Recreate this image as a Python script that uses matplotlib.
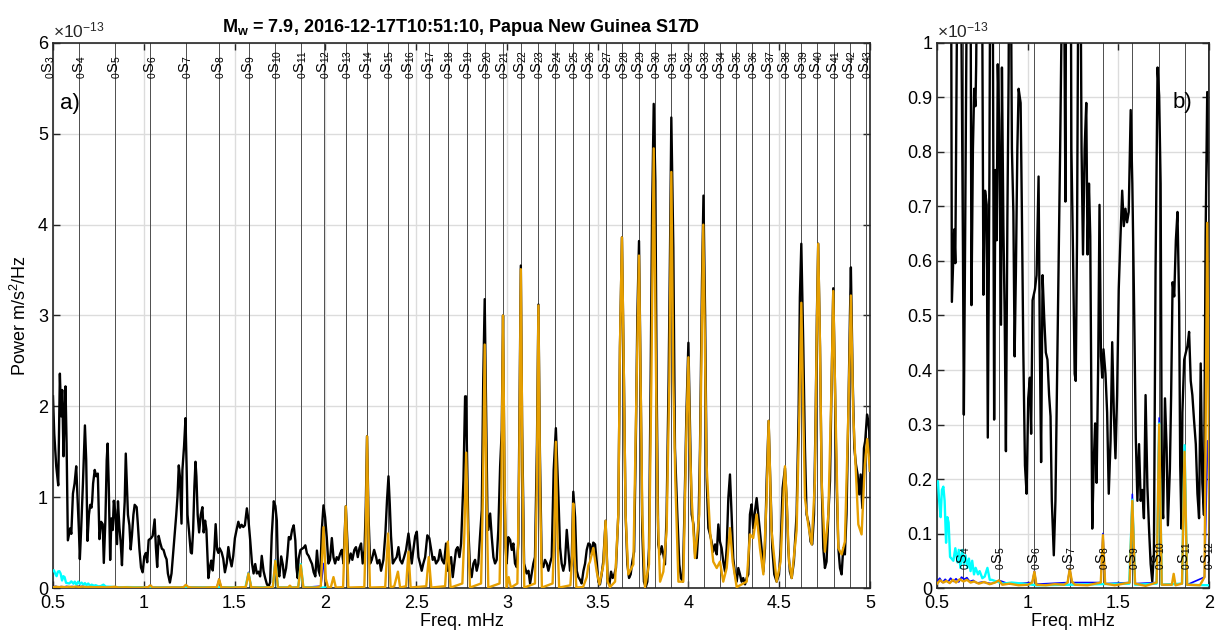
import matplotlib
matplotlib.use("Agg")
import matplotlib.pyplot as plt
from matplotlib.ticker import FormatStrFormatter

plt.rcParams['font.family'] = ['Liberation Sans', 'DejaVu Sans']
plt.rcParams['mathtext.fontset'] = 'custom'
plt.rcParams['mathtext.rm'] = 'Liberation Sans'
plt.rcParams['mathtext.it'] = 'Liberation Sans:italic'
plt.rcParams['mathtext.bf'] = 'Liberation Sans:bold'

TITLE = r'$\mathbf{M}_\mathbf{w}$ = 7.9, 2016-12-17T10:51:10, Papua New Guinea S17D'

# fundamental spheroidal modes 0S_n marked on the plot (mHz)
MODE_N = [3] + list(range(4, 44))
MODE_FREQ = [0.478, 0.646, 0.842, 1.037, 1.232, 1.415, 1.577, 1.725, 1.865, 1.993, 2.113,
             2.230, 2.346, 2.458, 2.570, 2.675, 2.779, 2.882, 2.979, 3.076, 3.172,
             3.267, 3.363, 3.454, 3.546, 3.636, 3.726, 3.816, 3.906, 3.996, 4.084,
             4.174, 4.262, 4.352, 4.444, 4.532, 4.622, 4.710, 4.800, 4.890, 4.978]

# spectra, power in units of 1e-13 m/s^2/Hz
BLK_F = [0.500, 0.507, 0.518, 0.529, 0.538, 0.545, 0.551, 0.558, 0.564, 0.569, 0.575, 0.582,
         0.595, 0.601, 0.610, 0.619, 0.628, 0.643, 0.648, 0.655, 0.665, 0.676, 0.683, 0.690,
         0.698, 0.705, 0.712, 0.716, 0.721, 0.730, 0.738, 0.747, 0.756, 0.765, 0.774, 0.780,
         0.789, 0.796, 0.801, 0.807, 0.815, 0.822, 0.829, 0.835, 0.842, 0.848, 0.853, 0.858,
         0.866, 0.873, 0.880, 0.888, 0.895, 0.901, 0.908, 0.913, 0.921, 0.928, 0.935, 0.943,
         0.950, 0.961, 0.968, 0.976, 0.985, 0.994, 1.003, 1.012, 1.019, 1.027, 1.040, 1.049,
         1.060, 1.067, 1.074, 1.082, 1.091, 1.100, 1.109, 1.118, 1.126, 1.133, 1.144, 1.153,
         1.162, 1.171, 1.179, 1.186, 1.193, 1.199, 1.208, 1.213, 1.222, 1.230, 1.236, 1.241,
         1.250, 1.259, 1.265, 1.272, 1.279, 1.285, 1.290, 1.297, 1.305, 1.314, 1.323, 1.330,
         1.338, 1.345, 1.356, 1.365, 1.372, 1.380, 1.389, 1.396, 1.404, 1.411, 1.418, 1.429,
         1.438, 1.447, 1.457, 1.466, 1.475, 1.484, 1.493, 1.502, 1.511, 1.521, 1.530, 1.539,
         1.548, 1.557, 1.568, 1.577, 1.586, 1.596, 1.605, 1.614, 1.623, 1.632, 1.641, 1.650,
         1.660, 1.669, 1.678, 1.687, 1.696, 1.705, 1.716, 1.725, 1.733, 1.740, 1.747, 1.757,
         1.766, 1.773, 1.784, 1.791, 1.799, 1.808, 1.817, 1.826, 1.835, 1.841, 1.848, 1.853,
         1.863, 1.872, 1.881, 1.890, 1.899, 1.908, 1.917, 1.927, 1.936, 1.945, 1.954, 1.963,
         1.972, 1.981, 1.990, 1.999, 2.008, 2.017, 2.026, 2.036, 2.045, 2.054, 2.063, 2.072,
         2.082, 2.091, 2.100, 2.113, 2.127, 2.140, 2.149, 2.160, 2.169, 2.179, 2.188, 2.197,
         2.206, 2.216, 2.223, 2.230, 2.238, 2.247, 2.256, 2.269, 2.280, 2.287, 2.298, 2.307,
         2.320, 2.331, 2.340, 2.348, 2.355, 2.362, 2.372, 2.383, 2.393, 2.403, 2.412, 2.423,
         2.434, 2.445, 2.458, 2.467, 2.476, 2.485, 2.495, 2.504, 2.513, 2.522, 2.531, 2.540,
         2.550, 2.562, 2.573, 2.583, 2.592, 2.601, 2.610, 2.623, 2.632, 2.643, 2.654, 2.665,
         2.674, 2.683, 2.693, 2.702, 2.711, 2.720, 2.729, 2.739, 2.748, 2.761, 2.770, 2.775,
         2.781, 2.788, 2.797, 2.806, 2.816, 2.825, 2.834, 2.843, 2.852, 2.862, 2.870, 2.878,
         2.886, 2.893, 2.898, 2.908, 2.917, 2.926, 2.935, 2.944, 2.953, 2.963, 2.972, 2.979,
         2.987, 2.993, 2.999, 3.008, 3.018, 3.027, 3.036, 3.045, 3.054, 3.063, 3.070, 3.077,
         3.084, 3.095, 3.109, 3.119, 3.128, 3.137, 3.146, 3.155, 3.166, 3.174, 3.182, 3.192,
         3.201, 3.210, 3.220, 3.229, 3.238, 3.247, 3.258, 3.270, 3.284, 3.293, 3.302, 3.311,
         3.320, 3.330, 3.339, 3.348, 3.357, 3.366, 3.376, 3.385, 3.394, 3.403, 3.412, 3.422,
         3.431, 3.440, 3.449, 3.458, 3.467, 3.476, 3.486, 3.495, 3.504, 3.513, 3.522, 3.531,
         3.544, 3.555, 3.565, 3.574, 3.583, 3.592, 3.601, 3.614, 3.623, 3.634, 3.645, 3.654,
         3.664, 3.673, 3.682, 3.691, 3.701, 3.710, 3.719, 3.728, 3.737, 3.746, 3.755, 3.765,
         3.774, 3.783, 3.792, 3.800, 3.809, 3.818, 3.825, 3.834, 3.844, 3.853, 3.862, 3.871,
         3.880, 3.891, 3.899, 3.906, 3.917, 3.926, 3.939, 3.950, 3.959, 3.969, 3.978, 3.989,
         4.000, 4.009, 4.018, 4.028, 4.037, 4.046, 4.055, 4.064, 4.075, 4.083, 4.092, 4.101,
         4.110, 4.119, 4.128, 4.137, 4.147, 4.156, 4.165, 4.174, 4.183, 4.192, 4.202, 4.211,
         4.220, 4.229, 4.238, 4.247, 4.257, 4.266, 4.275, 4.284, 4.293, 4.302, 4.312, 4.321,
         4.330, 4.339, 4.348, 4.357, 4.367, 4.376, 4.385, 4.394, 4.403, 4.413, 4.422, 4.431,
         4.442, 4.451, 4.462, 4.473, 4.486, 4.499, 4.508, 4.519, 4.532, 4.541, 4.550, 4.559,
         4.569, 4.581, 4.596, 4.607, 4.614, 4.622, 4.633, 4.642, 4.651, 4.664, 4.673, 4.682,
         4.692, 4.701, 4.708, 4.715, 4.725, 4.734, 4.743, 4.752, 4.761, 4.771, 4.780, 4.789,
         4.798, 4.807, 4.816, 4.826, 4.835, 4.844, 4.853, 4.862, 4.871, 4.881, 4.890, 4.895,
         4.905, 4.914, 4.923, 4.932, 4.941, 4.949, 4.958, 4.967, 4.974, 4.984, 4.991, 4.996,
         5.000]
BLK_P = [2.11, 1.70, 1.34, 1.13, 2.36, 1.89, 2.18, 1.45, 1.96, 2.22, 1.59, 0.525,
         0.658, 0.596, 1.04, 1.15, 1.34, 0.625, 0.318, 0.638, 1.15, 1.79, 1.41, 0.519,
         0.806, 0.916, 0.884, 0.961, 1.15, 1.30, 1.23, 1.26, 0.538, 0.729, 0.703, 0.276,
         0.761, 1.41, 1.59, 1.15, 0.309, 0.767, 0.638, 0.961, 0.858, 0.664, 0.483, 0.955,
         0.664, 0.503, 0.251, 0.677, 0.948, 1.48, 1.10, 0.806, 0.690, 0.425, 0.580, 0.806,
         0.916, 0.890, 0.690, 0.432, 0.225, 0.173, 0.348, 0.386, 0.283, 0.528, 0.548, 0.574,
         0.755, 0.444, 0.231, 0.574, 0.496, 0.432, 0.419, 0.354, 0.315, 0.160, 0.060, 0.160,
         0.386, 0.625, 0.806, 1.01, 1.35, 1.23, 0.709, 1.30, 1.56, 1.87, 1.34, 0.806,
         0.612, 0.393, 0.380, 0.638, 1.12, 1.39, 1.23, 0.806, 0.612, 0.806, 0.890, 0.612,
         0.742, 0.645, 0.109, 0.238, 0.302, 0.193, 0.419, 0.703, 0.425, 0.386, 0.438, 0.393,
         0.322, 0.173, 0.270, 0.451, 0.322, 0.238, 0.354, 0.548, 0.638, 0.729, 0.664, 0.696,
         0.671, 0.690, 0.877, 0.742, 0.535, 0.276, 0.160, 0.264, 0.160, 0.180, 0.128, 0.354,
         0.186, 0.109, 0.044, 0.012, 0.063, 0.580, 0.955, 0.903, 0.742, 0.160, 0.128, 0.348,
         0.257, 0.115, 0.218, 0.354, 0.561, 0.535, 0.638, 0.690, 0.522, 0.225, 0.109, 0.322,
         0.419, 0.432, 0.444, 0.470, 0.380, 0.354, 0.309, 0.264, 0.173, 0.128, 0.412, 0.193,
         0.134, 0.645, 0.91, 0.78, 0.56, 0.27, 0.31, 0.55, 0.34, 0.27, 0.34, 0.31,
         0.38, 0.42, 0.27, 0.90, 0.27, 0.38, 0.31, 0.42, 0.45, 0.34, 0.44, 0.49,
         0.27, 0.42, 0.90, 1.67, 0.80, 0.27, 0.31, 0.42, 0.34, 0.27, 0.31, 0.19,
         0.31, 0.60, 0.97, 1.23, 0.93, 0.57, 0.27, 0.31, 0.34, 0.45, 0.31, 0.27,
         0.34, 0.42, 0.60, 0.45, 0.27, 0.42, 0.57, 0.62, 0.34, 0.27, 0.19, 0.27,
         0.34, 0.58, 0.55, 0.42, 0.31, 0.34, 0.27, 0.31, 0.42, 0.31, 0.27, 0.49,
         0.19, 0.27, 0.34, 0.12, 0.27, 0.42, 0.45, 0.34, 0.49, 1.19, 2.11, 2.11,
         1.45, 0.64, 0.23, 0.12, 0.27, 0.31, 0.19, 0.27, 0.56, 0.86, 2.30, 3.18,
         1.90, 0.82, 0.64, 0.82, 0.56, 0.34, 0.27, 0.31, 0.64, 1.34, 1.74, 3.00,
         1.20, 0.45, 0.27, 0.56, 0.53, 0.42, 0.49, 0.27, 0.23, 0.49, 2.00, 3.55,
         1.80, 0.27, 0.16, 0.19, 0.05, 0.16, 0.27, 0.34, 1.60, 3.12, 1.50, 0.27,
         0.23, 0.31, 0.27, 0.19, 0.27, 0.34, 1.30, 1.76, 1.01, 0.45, 0.27, 0.19,
         0.27, 0.64, 0.42, 0.19, 0.27, 1.06, 0.78, 0.19, 0.12, 0.09, 0.05, 0.19,
         0.27, 0.42, 0.49, 0.48, 0.37, 0.50, 0.48, 0.29, 0.07, 0.04, 0.15, 0.29,
         0.74, 0.11, 0.04, 0.18, 0.11, 0.15, 0.22, 0.81, 2.65, 3.86, 2.28, 0.81,
         0.26, 0.11, 0.15, 0.29, 0.40, 1.54, 3.01, 3.82, 2.28, 0.63, 0.07, 0.01,
         0.07, 0.44, 2.28, 4.12, 5.33, 4.48, 2.28, 0.48, 0.37, 0.46, 0.37, 0.26,
         0.81, 2.28, 3.75, 5.18, 3.75, 1.54, 0.81, 0.26, 0.11, 0.07, 0.81, 1.91,
         2.70, 1.73, 0.81, 0.70, 0.37, 0.33, 0.63, 1.54, 3.38, 4.32, 3.01, 1.18,
         0.66, 0.59, 0.51, 0.40, 0.48, 0.37, 0.70, 0.51, 0.44, 0.29, 0.18, 0.44,
         0.99, 1.25, 0.81, 0.33, 0.15, 0.07, 0.22, 0.15, 0.07, 0.11, 0.04, 0.11,
         0.15, 0.81, 0.92, 0.66, 0.85, 0.99, 0.81, 0.63, 0.44, 0.18, 0.44, 1.18,
         1.84, 1.18, 0.44, 0.15, 0.07, 0.15, 0.44, 1.10, 1.32, 0.99, 0.44, 0.18,
         0.11, 0.29, 0.81, 1.91, 3.20, 3.79, 2.65, 1.54, 0.81, 0.70, 0.51, 0.48,
         0.81, 1.91, 3.01, 3.79, 2.65, 1.18, 0.44, 0.22, 0.29, 0.81, 1.18, 2.28,
         3.30, 2.28, 1.18, 0.44, 0.22, 0.15, 0.44, 0.37, 0.81, 1.91, 3.01, 3.53,
         2.28, 1.54, 1.36, 1.25, 1.03, 1.25, 0.88, 1.54, 1.62, 1.91, 1.84, 1.73,
         1.29]

ORG_F = [0.500, 0.517, 0.535, 0.552, 0.570, 0.588, 0.605, 0.625, 0.646, 0.665, 0.685, 0.705,
         0.730, 0.760, 0.790, 0.820, 0.842, 0.860, 0.900, 0.950, 1.000, 1.025, 1.037, 1.048,
         1.100, 1.150, 1.200, 1.220, 1.232, 1.244, 1.260, 1.330, 1.403, 1.415, 1.427, 1.480,
         1.562, 1.577, 1.592, 1.650, 1.711, 1.725, 1.739, 1.795, 1.805, 1.815, 1.851, 1.865,
         1.879, 1.950, 1.975, 1.990, 2.003, 2.015, 2.030, 2.045, 2.058, 2.098, 2.113, 2.127,
         2.215, 2.223, 2.230, 2.238, 2.246, 2.330, 2.346, 2.360, 2.380, 2.390, 2.400, 2.412,
         2.445, 2.458, 2.470, 2.556, 2.570, 2.584, 2.660, 2.675, 2.690, 2.755, 2.766, 2.776,
         2.786, 2.797, 2.858, 2.868, 2.878, 2.888, 2.898, 2.960, 2.970, 2.979, 2.988, 2.998,
         3.010, 3.022, 3.058, 3.068, 3.077, 3.086, 3.096, 3.155, 3.165, 3.174, 3.183, 3.193,
         3.252, 3.262, 3.270, 3.278, 3.288, 3.350, 3.360, 3.366, 3.373, 3.383, 3.420, 3.440,
         3.449, 3.458, 3.476, 3.495, 3.510, 3.532, 3.544, 3.555, 3.568, 3.596, 3.614, 3.623,
         3.634, 3.645, 3.654, 3.669, 3.697, 3.715, 3.728, 3.737, 3.746, 3.761, 3.783, 3.796,
         3.809, 3.820, 3.831, 3.844, 3.862, 3.880, 3.895, 3.906, 3.917, 3.928, 3.945, 3.972,
         3.989, 4.000, 4.009, 4.018, 4.036, 4.060, 4.073, 4.082, 4.091, 4.100, 4.119, 4.137,
         4.156, 4.174, 4.192, 4.211, 4.229, 4.244, 4.266, 4.293, 4.321, 4.339, 4.357, 4.376,
         4.394, 4.413, 4.431, 4.442, 4.458, 4.486, 4.508, 4.523, 4.532, 4.541, 4.554, 4.569,
         4.596, 4.611, 4.622, 4.633, 4.642, 4.660, 4.679, 4.697, 4.706, 4.715, 4.725, 4.734,
         4.752, 4.771, 4.789, 4.798, 4.807, 4.826, 4.844, 4.862, 4.881, 4.895, 4.908, 4.921,
         4.936, 4.954, 4.972, 4.985, 5.000]
ORG_P = [0.008, 0.014, 0.010, 0.013, 0.009, 0.015, 0.010, 0.016, 0.012, 0.015, 0.010, 0.012,
         0.008, 0.011, 0.007, 0.010, 0.014, 0.006, 0.008, 0.005, 0.006, 0.010, 0.030, 0.006,
         0.005, 0.007, 0.006, 0.010, 0.035, 0.012, 0.006, 0.005, 0.010, 0.097, 0.008, 0.005,
         0.010, 0.160, 0.008, 0.004, 0.010, 0.300, 0.006, 0.006, 0.026, 0.005, 0.008, 0.250,
         0.006, 0.005, 0.020, 0.670, 0.100, 0.010, 0.005, 0.120, 0.005, 0.010, 0.900, 0.005,
         0.010, 0.600, 1.670, 0.600, 0.005, 0.010, 0.600, 0.005, 0.020, 0.100, 0.180, 0.005,
         0.020, 0.400, 0.005, 0.020, 0.340, 0.005, 0.020, 0.510, 0.005, 0.050, 0.600, 1.490,
         0.600, 0.005, 0.050, 1.000, 2.680, 1.000, 0.005, 0.050, 1.100, 3.000, 1.100, 0.005,
         0.120, 0.005, 0.050, 1.300, 3.510, 1.300, 0.005, 0.050, 1.100, 3.110, 1.100, 0.005,
         0.050, 0.600, 1.610, 0.600, 0.005, 0.030, 0.350, 0.930, 0.350, 0.005, 0.010, 0.120,
         0.250, 0.290, 0.440, 0.180, 0.040, 0.260, 0.740, 0.070, 0.010, 0.070, 0.810, 2.650,
         3.860, 2.280, 0.810, 0.150, 0.260, 2.280, 3.660, 2.280, 0.810, 0.010, 0.260, 2.280,
         4.840, 2.650, 0.810, 0.070, 0.180, 0.630, 2.280, 4.580, 2.280, 1.180, 0.070, 0.070,
         1.730, 2.540, 1.540, 0.990, 0.330, 0.810, 2.650, 4.000, 2.650, 1.360, 0.630, 0.290,
         0.220, 0.290, 0.070, 0.220, 0.660, 0.290, 0.010, 0.040, 0.070, 0.590, 0.550, 0.810,
         0.440, 0.150, 0.990, 1.840, 0.630, 0.070, 0.290, 0.990, 1.340, 0.990, 0.290, 0.110,
         0.630, 1.910, 3.140, 1.910, 0.990, 0.700, 0.480, 1.180, 2.650, 3.790, 2.650, 1.180,
         0.400, 0.810, 2.280, 3.270, 2.280, 0.440, 0.370, 0.510, 1.910, 3.220, 1.910, 1.360,
         0.700, 0.590, 1.360, 1.640, 1.290]

CYN_F = [0.500, 0.505, 0.512, 0.520, 0.527, 0.535, 0.542, 0.550, 0.557, 0.564, 0.572, 0.580,
         0.590, 0.601, 0.613, 0.620, 0.629, 0.639, 0.648, 0.657, 0.668, 0.676, 0.685, 0.694,
         0.704, 0.713, 0.726, 0.735, 0.750, 0.763, 0.778, 0.791, 0.802, 0.828, 0.865, 0.911,
         0.976, 1.050, 1.560, 1.577, 1.592, 1.711, 1.725, 1.739, 1.851, 1.865, 1.879, 2.000]
CYN_P = [0.190, 0.196, 0.160, 0.130, 0.180, 0.186, 0.160, 0.083, 0.130, 0.120, 0.057, 0.054,
         0.050, 0.073, 0.047, 0.070, 0.037, 0.070, 0.044, 0.060, 0.037, 0.054, 0.031, 0.050,
         0.025, 0.037, 0.025, 0.031, 0.018, 0.021, 0.037, 0.015, 0.015, 0.012, 0.008, 0.010,
         0.008, 0.005, 0.008, 0.162, 0.006, 0.008, 0.302, 0.006, 0.008, 0.262, 0.006, 0.005]

BLU_F = [0.500, 0.515, 0.530, 0.545, 0.560, 0.575, 0.590, 0.605, 0.620, 0.635, 0.650, 0.665,
         0.680, 0.700, 0.720, 0.750, 0.800, 0.842, 0.900, 1.025, 1.037, 1.048, 1.220, 1.232,
         1.244, 1.403, 1.415, 1.427, 1.562, 1.577, 1.592, 1.711, 1.725, 1.739, 1.851, 1.865,
         1.879, 1.975, 1.992, 2.000]
BLU_P = [0.012, 0.018, 0.010, 0.016, 0.011, 0.018, 0.012, 0.017, 0.011, 0.020, 0.016, 0.019,
         0.012, 0.014, 0.009, 0.011, 0.008, 0.014, 0.007, 0.010, 0.031, 0.007, 0.010, 0.036,
         0.010, 0.010, 0.100, 0.008, 0.010, 0.172, 0.008, 0.010, 0.312, 0.006, 0.008, 0.255,
         0.006, 0.020, 0.270, 0.270]

ORANGE = '#e69f00'


def _draw_panel(ax, xlim, ylim, yticks, label_y, label_left, tag, tag_xy):
    ax.grid(True, color='#dcdcdc', lw=1.0, zorder=0)
    ax.set_axisbelow(True)

    for n, f in zip(MODE_N, MODE_FREQ):
        if f > xlim[1] + 0.005 or f < label_left:
            continue
        if f >= xlim[0]:
            ax.axvline(f, color='#4d4d4d', lw=0.7, zorder=1)
        ax.text(f, label_y, r'$_0$S$_{%d}$' % n, rotation=90, ha='center', va='bottom',
                fontsize=10.5, zorder=6)

    ax.plot(BLK_F, BLK_P, color='black', lw=1.7, zorder=2)
    ax.plot(BLU_F, BLU_P, color='#0000ff', lw=1.2, zorder=3)
    ax.plot(CYN_F, CYN_P, color='#00ffff', lw=1.7, zorder=4)
    ax.plot(ORG_F, ORG_P, color=ORANGE, lw=1.7, zorder=5)

    ax.set_xlim(xlim)
    ax.set_ylim(ylim)
    ax.set_yticks(yticks)
    ax.xaxis.set_major_formatter(FormatStrFormatter('%g'))
    ax.yaxis.set_major_formatter(FormatStrFormatter('%g'))
    ax.tick_params(direction='in', top=True, right=True, length=5, width=1,
                   labelsize=13, color='#262626')
    ax.tick_params(axis='x', pad=5)
    for sp in ax.spines.values():
        sp.set_color('#262626')
        sp.set_linewidth(1.2)

    ax.set_xlabel('Freq. mHz', fontsize=13, labelpad=1)
    ax.text(0.0, 1.004, r'$\times10^{-13}$', transform=ax.transAxes, ha='left', va='bottom',
            fontsize=12.5, color='#262626')
    ax.text(tag_xy[0], tag_xy[1], tag, fontsize=16, ha='left', va='center', zorder=7)


def main():
    fig = plt.figure(figsize=(12.15, 6.35), dpi=100)

    ax_a = fig.add_axes([0.0436, 0.074, 0.6724, 0.8583])
    _draw_panel(ax_a, (0.5, 5.0), (0, 6), range(0, 7), 5.6, 0.4, 'a)', (0.54, 5.33))
    ax_a.set_xticks([0.5, 1, 1.5, 2, 2.5, 3, 3.5, 4, 4.5, 5])
    ax_a.set_ylabel(r'Power m/s$^2$/Hz', fontsize=13, labelpad=6)
    ax_a.set_title(TITLE, fontsize=13, fontweight='bold', pad=8)

    ax_b = fig.add_axes([0.7712, 0.074, 0.2239, 0.8583])
    yt = [i / 10 for i in range(11)]
    _draw_panel(ax_b, (0.5, 2.0), (0, 1), yt, 0.033, 0.5, 'b)', (1.80, 0.89))
    ax_b.set_xticks([0.5, 1, 1.5, 2])

    fig.savefig('out.png', dpi=100)


if __name__ == "__main__":
    main()
